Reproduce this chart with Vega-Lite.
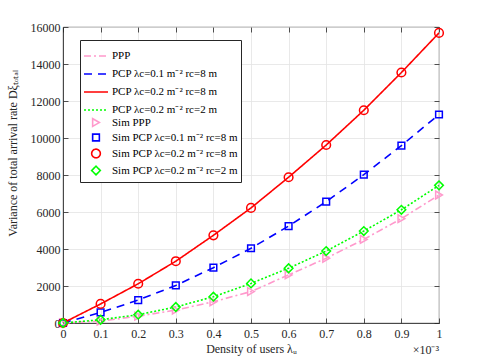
{
  "$schema": "https://vega.github.io/schema/vega-lite/v6.json",
  "width": 376,
  "height": 296,
  "autosize": "none",
  "padding": {"left": 63, "top": 27, "right": 46, "bottom": 40},
  "config": {
    "font": "Liberation Serif",
    "view": {"stroke": "#262626", "strokeWidth": 0.8},
    "axis": {
      "labelFont": "Liberation Serif", "titleFont": "Liberation Serif",
      "labelFontSize": 12, "titleFontSize": 12, "titleFontWeight": "normal",
      "labelColor": "#262626", "titleColor": "#262626",
      "domainColor": "#262626", "tickColor": "#262626", "domainWidth": 0.8, "tickWidth": 0.8,
      "gridColor": "#e3e3e3", "gridWidth": 0.8
    },
    "legend": {"labelFontSize": 11, "labelFont": "Liberation Serif", "labelColor": "#000000", "padding": 3, "fillColor": "#ffffff", "strokeColor": "#262626", "labelLimit": 300, "symbolStrokeWidth": 1.6, "labelOffset": 3, "rowPadding": 0}
  },
  "title": {"text": "×10⁻³", "orient": "bottom", "anchor": "end", "frame": "group", "offset": -9, "fontSize": 12, "font": "Liberation Serif", "fontWeight": "normal", "color": "#262626"},
  "data": {"values": [
    {"x": 0, "y": 0, "s": "PPP"}, {"x": 0.1, "y": 100, "s": "PPP"}, {"x": 0.2, "y": 370, "s": "PPP"}, {"x": 0.3, "y": 700, "s": "PPP"}, {"x": 0.4, "y": 1150, "s": "PPP"}, {"x": 0.5, "y": 1700, "s": "PPP"}, {"x": 0.6, "y": 2600, "s": "PPP"}, {"x": 0.7, "y": 3500, "s": "PPP"}, {"x": 0.8, "y": 4520, "s": "PPP"}, {"x": 0.9, "y": 5640, "s": "PPP"}, {"x": 1, "y": 6920, "s": "PPP"},
    {"x": 0, "y": 0, "s": "PCP λc=0.1 m⁻² rc=8 m"}, {"x": 0.1, "y": 570, "s": "PCP λc=0.1 m⁻² rc=8 m"}, {"x": 0.2, "y": 1240, "s": "PCP λc=0.1 m⁻² rc=8 m"}, {"x": 0.3, "y": 2030, "s": "PCP λc=0.1 m⁻² rc=8 m"}, {"x": 0.4, "y": 2990, "s": "PCP λc=0.1 m⁻² rc=8 m"}, {"x": 0.5, "y": 4040, "s": "PCP λc=0.1 m⁻² rc=8 m"}, {"x": 0.6, "y": 5240, "s": "PCP λc=0.1 m⁻² rc=8 m"}, {"x": 0.7, "y": 6560, "s": "PCP λc=0.1 m⁻² rc=8 m"}, {"x": 0.8, "y": 8020, "s": "PCP λc=0.1 m⁻² rc=8 m"}, {"x": 0.9, "y": 9590, "s": "PCP λc=0.1 m⁻² rc=8 m"}, {"x": 1, "y": 11270, "s": "PCP λc=0.1 m⁻² rc=8 m"},
    {"x": 0, "y": 0, "s": "PCP λc=0.2 m⁻² rc=8 m"}, {"x": 0.1, "y": 1030, "s": "PCP λc=0.2 m⁻² rc=8 m"}, {"x": 0.2, "y": 2120, "s": "PCP λc=0.2 m⁻² rc=8 m"}, {"x": 0.3, "y": 3340, "s": "PCP λc=0.2 m⁻² rc=8 m"}, {"x": 0.4, "y": 4740, "s": "PCP λc=0.2 m⁻² rc=8 m"}, {"x": 0.5, "y": 6220, "s": "PCP λc=0.2 m⁻² rc=8 m"}, {"x": 0.6, "y": 7880, "s": "PCP λc=0.2 m⁻² rc=8 m"}, {"x": 0.7, "y": 9620, "s": "PCP λc=0.2 m⁻² rc=8 m"}, {"x": 0.8, "y": 11500, "s": "PCP λc=0.2 m⁻² rc=8 m"}, {"x": 0.9, "y": 13540, "s": "PCP λc=0.2 m⁻² rc=8 m"}, {"x": 1, "y": 15680, "s": "PCP λc=0.2 m⁻² rc=8 m"},
    {"x": 0, "y": 0, "s": "PCP λc=0.2 m⁻² rc=2 m"}, {"x": 0.1, "y": 175, "s": "PCP λc=0.2 m⁻² rc=2 m"}, {"x": 0.2, "y": 450, "s": "PCP λc=0.2 m⁻² rc=2 m"}, {"x": 0.3, "y": 865, "s": "PCP λc=0.2 m⁻² rc=2 m"}, {"x": 0.4, "y": 1420, "s": "PCP λc=0.2 m⁻² rc=2 m"}, {"x": 0.5, "y": 2140, "s": "PCP λc=0.2 m⁻² rc=2 m"}, {"x": 0.6, "y": 2960, "s": "PCP λc=0.2 m⁻² rc=2 m"}, {"x": 0.7, "y": 3890, "s": "PCP λc=0.2 m⁻² rc=2 m"}, {"x": 0.8, "y": 4970, "s": "PCP λc=0.2 m⁻² rc=2 m"}, {"x": 0.9, "y": 6120, "s": "PCP λc=0.2 m⁻² rc=2 m"}, {"x": 1, "y": 7440, "s": "PCP λc=0.2 m⁻² rc=2 m"},
    {"x": 0, "y": 0, "s": "Sim PPP"}, {"x": 0.1, "y": 100, "s": "Sim PPP"}, {"x": 0.2, "y": 370, "s": "Sim PPP"}, {"x": 0.3, "y": 700, "s": "Sim PPP"}, {"x": 0.4, "y": 1150, "s": "Sim PPP"}, {"x": 0.5, "y": 1700, "s": "Sim PPP"}, {"x": 0.6, "y": 2600, "s": "Sim PPP"}, {"x": 0.7, "y": 3500, "s": "Sim PPP"}, {"x": 0.8, "y": 4520, "s": "Sim PPP"}, {"x": 0.9, "y": 5640, "s": "Sim PPP"}, {"x": 1, "y": 6920, "s": "Sim PPP"},
    {"x": 0, "y": 0, "s": "Sim PCP λc=0.1 m⁻² rc=8 m"}, {"x": 0.1, "y": 570, "s": "Sim PCP λc=0.1 m⁻² rc=8 m"}, {"x": 0.2, "y": 1240, "s": "Sim PCP λc=0.1 m⁻² rc=8 m"}, {"x": 0.3, "y": 2030, "s": "Sim PCP λc=0.1 m⁻² rc=8 m"}, {"x": 0.4, "y": 2990, "s": "Sim PCP λc=0.1 m⁻² rc=8 m"}, {"x": 0.5, "y": 4040, "s": "Sim PCP λc=0.1 m⁻² rc=8 m"}, {"x": 0.6, "y": 5240, "s": "Sim PCP λc=0.1 m⁻² rc=8 m"}, {"x": 0.7, "y": 6560, "s": "Sim PCP λc=0.1 m⁻² rc=8 m"}, {"x": 0.8, "y": 8020, "s": "Sim PCP λc=0.1 m⁻² rc=8 m"}, {"x": 0.9, "y": 9590, "s": "Sim PCP λc=0.1 m⁻² rc=8 m"}, {"x": 1, "y": 11270, "s": "Sim PCP λc=0.1 m⁻² rc=8 m"},
    {"x": 0, "y": 0, "s": "Sim PCP λc=0.2 m⁻² rc=8 m"}, {"x": 0.1, "y": 1030, "s": "Sim PCP λc=0.2 m⁻² rc=8 m"}, {"x": 0.2, "y": 2120, "s": "Sim PCP λc=0.2 m⁻² rc=8 m"}, {"x": 0.3, "y": 3340, "s": "Sim PCP λc=0.2 m⁻² rc=8 m"}, {"x": 0.4, "y": 4740, "s": "Sim PCP λc=0.2 m⁻² rc=8 m"}, {"x": 0.5, "y": 6220, "s": "Sim PCP λc=0.2 m⁻² rc=8 m"}, {"x": 0.6, "y": 7880, "s": "Sim PCP λc=0.2 m⁻² rc=8 m"}, {"x": 0.7, "y": 9620, "s": "Sim PCP λc=0.2 m⁻² rc=8 m"}, {"x": 0.8, "y": 11500, "s": "Sim PCP λc=0.2 m⁻² rc=8 m"}, {"x": 0.9, "y": 13540, "s": "Sim PCP λc=0.2 m⁻² rc=8 m"}, {"x": 1, "y": 15680, "s": "Sim PCP λc=0.2 m⁻² rc=8 m"},
    {"x": 0, "y": 0, "s": "Sim PCP λc=0.2 m⁻² rc=2 m"}, {"x": 0.1, "y": 175, "s": "Sim PCP λc=0.2 m⁻² rc=2 m"}, {"x": 0.2, "y": 450, "s": "Sim PCP λc=0.2 m⁻² rc=2 m"}, {"x": 0.3, "y": 865, "s": "Sim PCP λc=0.2 m⁻² rc=2 m"}, {"x": 0.4, "y": 1420, "s": "Sim PCP λc=0.2 m⁻² rc=2 m"}, {"x": 0.5, "y": 2140, "s": "Sim PCP λc=0.2 m⁻² rc=2 m"}, {"x": 0.6, "y": 2960, "s": "Sim PCP λc=0.2 m⁻² rc=2 m"}, {"x": 0.7, "y": 3890, "s": "Sim PCP λc=0.2 m⁻² rc=2 m"}, {"x": 0.8, "y": 4970, "s": "Sim PCP λc=0.2 m⁻² rc=2 m"}, {"x": 0.9, "y": 6120, "s": "Sim PCP λc=0.2 m⁻² rc=2 m"}, {"x": 1, "y": 7440, "s": "Sim PCP λc=0.2 m⁻² rc=2 m"}
  ]},
  "encoding": {
    "x": {"field": "x", "type": "quantitative", "scale": {"domain": [0, 1], "nice": false},
      "axis": {"values": [0, 0.1, 0.2, 0.3, 0.4, 0.5, 0.6, 0.7, 0.8, 0.9, 1], "format": ".1~f", "title": "Density of users λᵤ", "tickSize": -5, "labelPadding": 10, "titleY": 20, "titleBaseline": "top", "labelFlush": false}},
    "y": {"field": "y", "type": "quantitative", "scale": {"domain": [0, 16000], "nice": false},
      "axis": {"values": [0, 2000, 4000, 6000, 8000, 10000, 12000, 14000, 16000], "format": "d", "title": "Variance of total arrival rate Dξₜₒₜₐₗ", "tickSize": -5, "labelPadding": 8, "titleX": -44, "titleY": 126, "titleAngle": -90, "titleBaseline": "bottom", "titleAlign": "center", "labelFlush": false}},
    "color": {"field": "s", "type": "nominal",
      "scale": {"domain": ["PPP", "PCP λc=0.1 m⁻² rc=8 m", "PCP λc=0.2 m⁻² rc=8 m", "PCP λc=0.2 m⁻² rc=2 m", "Sim PPP", "Sim PCP λc=0.1 m⁻² rc=8 m", "Sim PCP λc=0.2 m⁻² rc=8 m", "Sim PCP λc=0.2 m⁻² rc=2 m"],
        "range": ["#FF99CC", "#0000FF", "#FF0000", "#00FF00", "#FF99CC", "#0000FF", "#FF0000", "#00FF00"]},
      "legend": {"title": null, "orient": "none", "legendX": 17, "legendY": 13}
    }
  },
  "layer": [
    {
      "transform": [{"filter": "indexof(datum.s,'Sim')!==0"}],
      "mark": {"type": "line", "strokeWidth": 1.6},
      "encoding": {
        "strokeDash": {"field": "s", "type": "nominal",
          "scale": {"domain": ["PPP", "PCP λc=0.1 m⁻² rc=8 m", "PCP λc=0.2 m⁻² rc=8 m", "PCP λc=0.2 m⁻² rc=2 m", "Sim PPP", "Sim PCP λc=0.1 m⁻² rc=8 m", "Sim PCP λc=0.2 m⁻² rc=8 m", "Sim PCP λc=0.2 m⁻² rc=2 m"],
            "range": [[7, 3, 2, 3], [8, 6], [1, 0], [2, 2], [1, 0], [1, 0], [1, 0], [1, 0]]},
          "legend": {"title": null, "orient": "none", "legendX": 17, "legendY": 13}}
      }
    },
    {
      "transform": [{"filter": "indexof(datum.s,'Sim')===0"}],
      "mark": {"type": "point", "filled": false, "strokeWidth": 1.5, "opacity": 1},
      "encoding": {
        "x": {"field": "x", "type": "quantitative",
          "axis": {"orient": "top", "values": [0, 0.1, 0.2, 0.3, 0.4, 0.5, 0.6, 0.7, 0.8, 0.9, 1], "labels": false, "title": null, "grid": false, "domain": false, "tickSize": -5}},
        "y": {"field": "y", "type": "quantitative",
          "axis": {"orient": "right", "values": [0, 2000, 4000, 6000, 8000, 10000, 12000, 14000, 16000], "labels": false, "title": null, "grid": false, "domain": false, "tickSize": -5}},
        "shape": {"field": "s", "type": "nominal",
          "scale": {"domain": ["PPP", "PCP λc=0.1 m⁻² rc=8 m", "PCP λc=0.2 m⁻² rc=8 m", "PCP λc=0.2 m⁻² rc=2 m", "Sim PPP", "Sim PCP λc=0.1 m⁻² rc=8 m", "Sim PCP λc=0.2 m⁻² rc=8 m", "Sim PCP λc=0.2 m⁻² rc=2 m"],
            "range": ["stroke", "stroke", "stroke", "stroke", "triangle-right", "square", "circle", "diamond"]},
          "legend": {"title": null, "orient": "none", "legendX": 17, "legendY": 13}},
        "size": {"field": "s", "type": "nominal",
          "scale": {"type": "ordinal", "domain": ["PPP", "PCP λc=0.1 m⁻² rc=8 m", "PCP λc=0.2 m⁻² rc=8 m", "PCP λc=0.2 m⁻² rc=2 m", "Sim PPP", "Sim PCP λc=0.1 m⁻² rc=8 m", "Sim PCP λc=0.2 m⁻² rc=8 m", "Sim PCP λc=0.2 m⁻² rc=2 m"],
            "range": [576, 576, 576, 576, 60, 45, 75, 75]},
          "legend": {"title": null, "orient": "none", "legendX": 17, "legendY": 13}}
      }
    }
  ],
  "resolve": {"axis": {"x": "independent", "y": "independent"}}
}
